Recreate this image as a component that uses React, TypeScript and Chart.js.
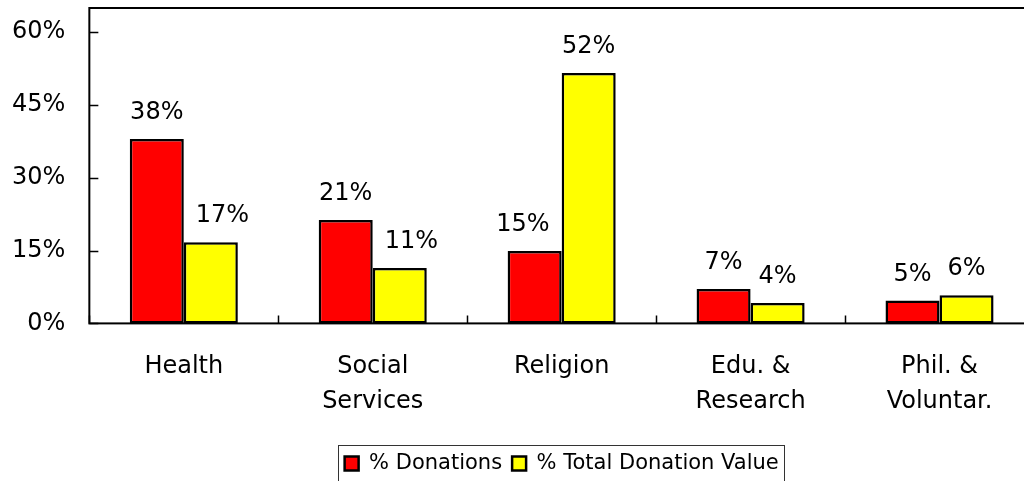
import React, { useEffect, useRef } from "react";
import { Chart, registerables } from "chart.js";

Chart.register(...registerables);

const categories: string[][] = [
  ["Health"],
  ["Social", "Services"],
  ["Religion"],
  ["Edu. &", "Research"],
  ["Phil. &", "Voluntar."],
];
const seriesNames = ["% Donations", "% Total Donation Value"];
const donations = [38.0, 21.3, 14.9, 7.1, 4.7];
const totalValue = [16.7, 11.4, 51.6, 4.2, 5.8];
const yTickValues = [0, 15, 30, 45, 60];
const seriesColors = ["#FF0000", "#FFFF00"];

const FONT = "'DejaVu Sans', sans-serif";

const framePlugin = {
  id: "frame",
  afterDraw(chart: any) {
    const { ctx, chartArea, scales } = chart;
    const { left, top, right, bottom } = chartArea;
    ctx.save();
    ctx.strokeStyle = "#000";
    ctx.lineWidth = 2;
    ctx.strokeRect(left, top, right - left, bottom - top);
    ctx.lineWidth = 1.5;
    ctx.beginPath();
    yTickValues.forEach((v) => {
      const py = Math.round(scales.y.getPixelForValue(v)) + 0.5;
      ctx.moveTo(left, py);
      ctx.lineTo(left + 9, py);
    });
    for (let i = 0; i <= categories.length; i++) {
      const px = Math.round(scales.x.getPixelForValue(i - 0.5)) + 0.5;
      ctx.moveTo(px, bottom);
      ctx.lineTo(px, bottom - 8);
    }
    ctx.stroke();
    // legend border
    const lg = chart.legend;
    if (lg && lg.legendHitBoxes && lg.legendHitBoxes.length) {
      const hb = lg.legendHitBoxes;
      let minL = Infinity, maxR = -Infinity, cy = 0;
      hb.forEach((h: any) => {
        minL = Math.min(minL, h.left);
        maxR = Math.max(maxR, h.left + h.width);
        cy = h.top + h.height / 2;
      });
      ctx.strokeStyle = "#333";
      ctx.lineWidth = 1;
      ctx.strokeRect(Math.round(minL - 7) + 0.5, Math.round(cy - 18.5) + 0.5, Math.round(maxR - minL + 12), 37);
    }
    ctx.restore();
  },
};

const valueLabelPlugin = {
  id: "valueLabels",
  afterDatasetsDraw(chart: any) {
    const { ctx } = chart;
    ctx.save();
    ctx.font = `24px ${FONT}`;
    ctx.fillStyle = "#000";
    ctx.textAlign = "center";
    ctx.textBaseline = "alphabetic";
    const metas = [chart.getDatasetMeta(0), chart.getDatasetMeta(1)];
    metas.forEach((meta: any, d: number) => {
      const values = chart.data.datasets[d].data as number[];
      meta.data.forEach((bar: any, i: number) => {
        const text = Math.round(values[i]) + "%";
        const w = ctx.measureText(text).width;
        const baseY = bar.y - 20;
        let cx = bar.x;
        const other = metas[1 - d].data[i];
        if (other && other.y < baseY) {
          const gap = 12;
          if (other.x > bar.x) {
            const edge = other.x - other.width / 2 - gap;
            if (cx + w / 2 > edge) cx = edge - w / 2;
          } else {
            const edge = other.x + other.width / 2 + gap;
            if (cx - w / 2 < edge) cx = edge + w / 2;
          }
        }
        ctx.fillText(text, cx, baseY);
      });
    });
    ctx.restore();
  },
};

export default function App() {
  const ref = useRef<HTMLCanvasElement | null>(null);

  useEffect(() => {
    if (!ref.current) return;
    Chart.defaults.font.family = FONT;
    Chart.defaults.color = "#000";
    const chart = new Chart(ref.current, {
      type: "bar",
      data: {
        labels: categories,
        datasets: [
          {
            label: seriesNames[0],
            data: donations,
            backgroundColor: seriesColors[0],
            borderColor: "#000",
            borderWidth: 2.5,
            borderSkipped: false,
          },
          {
            label: seriesNames[1],
            data: totalValue,
            backgroundColor: seriesColors[1],
            borderColor: "#000",
            borderWidth: 2.5,
            borderSkipped: false,
          },
        ],
      },
      options: {
        animation: false,
        responsive: false,
        maintainAspectRatio: false,
        layout: { padding: { top: 8, left: 12, right: 6, bottom: 4 } },
        datasets: {
          bar: { categoryPercentage: 0.572, barPercentage: 1 },
        },
        scales: {
          x: {
            grid: { display: false, drawTicks: false },
            border: { display: false },
            ticks: {
              padding: 26,
              font: { size: 24, lineHeight: 1.45 },
              color: "#000",
              maxRotation: 0,
              autoSkip: false,
            },
            afterFit(scale: any) {
              scale.height -= 2;
              scale.paddingLeft = 0;
              scale.paddingRight = 0;
            },
          },
          y: {
            min: 0,
            max: 65,
            grid: { display: false, drawTicks: false },
            border: { display: false },
            ticks: {
              stepSize: 15,
              includeBounds: false,
              padding: 24,
              font: { size: 24 },
              color: "#000",
              callback: (v: any) => v + "%",
            },
            afterFit(scale: any) {
              scale.width -= 24;
              scale.paddingTop = 0;
              scale.paddingBottom = 0;
            },
          },
        },
        plugins: {
          legend: {
            position: "bottom",
            fullSize: false,
            labels: {
              boxWidth: 14,
              boxHeight: 14,
              padding: 10,
              font: { size: 21 },
              color: "#000",
            },
          },
          tooltip: { enabled: false },
        },
      },
      plugins: [framePlugin, valueLabelPlugin],
    });
    return () => chart.destroy();
  }, []);

  return (
    <div
      style={{
        position: "fixed",
        left: 0,
        top: 0,
        width: 1024,
        height: 481,
        overflow: "hidden",
        background: "#fff",
      }}
    >
      <canvas ref={ref} width={1040} height={488} style={{ display: "block" }} />
    </div>
  );
}
